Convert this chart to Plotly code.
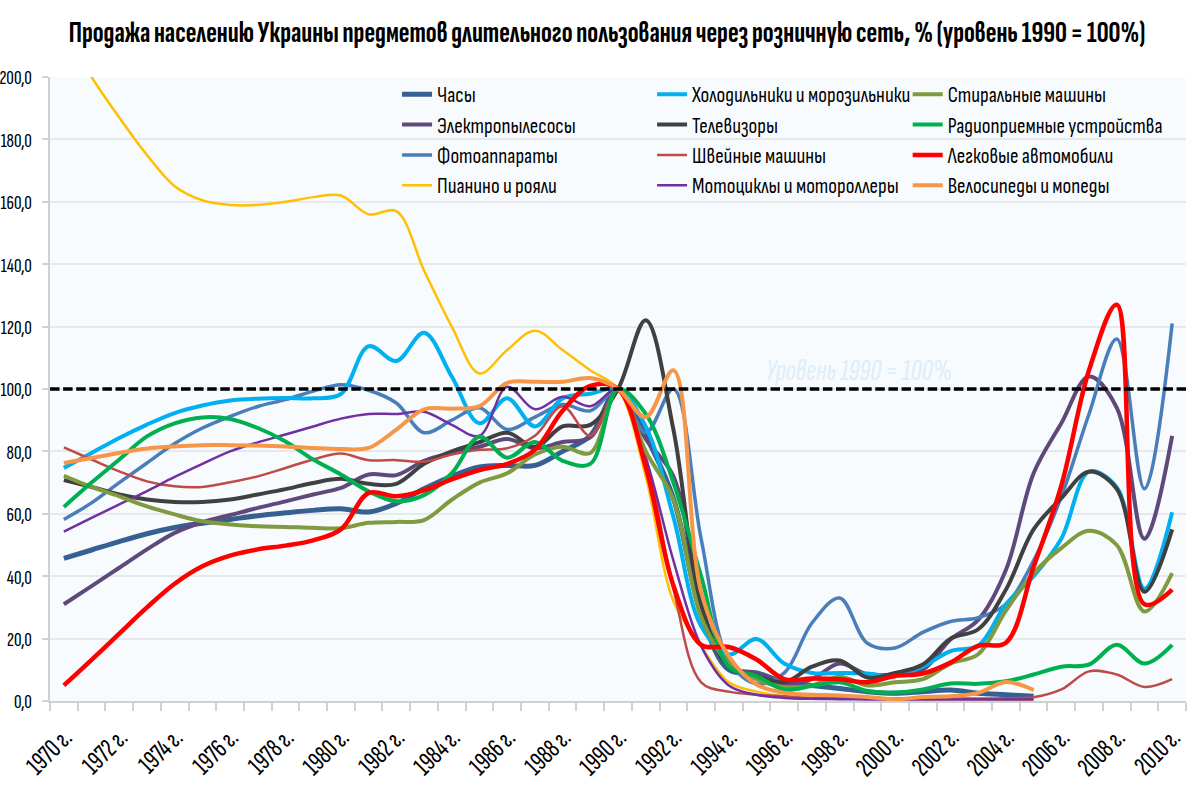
import plotly.graph_objects as go

years = list(range(1970, 2011))

chasy = [45.7,48.4,51.1,53.6,55.6,57,58.2,59.4,60.3,61.1,61.6,60.6,63.3,68,72,75,75.5,75.5,80,85,100,85,65,28,10,9,6,5,4,3,2.5,3,3.5,2.5,2,1.5]
elektro = [31,36.8,42.7,48.6,53.9,57.3,59.6,61.9,64,66.2,68.3,72.6,72.4,77,79.5,81.5,84,81,83,84.5,100,84,72,31,11,9,5.5,7,12,8.5,8.5,10,19.7,26,42,73,89,104,94,52,85]
foto = [58.2,63.5,70,76.3,82.5,87.5,91.2,94.4,96.6,99.3,101.4,99.6,95.5,86,90,94,87,91,95,93,100,86,100,52,13,5.5,9,25,33,18.5,17,22,25.5,26.7,31,45,65.5,92,116,68,121]
pianino = [215,200,187,175,165,160.5,159,159,160,161.5,162,156,157,138,120,105,112.5,118.7,112.5,106,100,72,32,17.6,6,3,1.5,1,1,0.8,0.7,0.6,0.6,0.6,0.5,0.5]
holod = [74.7,79.5,84.3,88.6,92.3,94.7,96.3,96.9,97.1,97,98.4,113.7,109,118,104,89,97,88,97,98.5,100,88,59,24,14.9,19.9,12,9,9,8.8,8,11,16,17.7,31,40,52,73.5,68.5,36,60.5]
tv = [70.8,68.6,66.2,64.6,63.8,63.8,64.6,66.2,67.9,69.9,71.2,69.6,69.6,76,80,83,86,81.5,88,88.5,100,122,87,31,11,8,6,11,13,7.5,9,11.7,20,23,35.7,55,65,73.5,68,35,55]
shvein = [81.3,77.4,73.6,70.4,68.8,68.6,70.1,72,74.7,77.4,79.3,77.2,77.2,76.7,79,80.5,81,85,94.5,85,100,78,36,6,3,2,1.5,1,1,0.9,0.8,0.8,0.8,0.8,0.9,1.2,3.7,9.5,8.5,4.5,7]
moto = [54.3,58.7,63,67.3,71.8,76,80,82.9,85.4,88,90.5,92,92,92.7,88.5,85,100.7,93.5,97.5,94.5,100,78,45,17.6,5,2,1,0.7,0.6,0.5,0.5,0.5,0.5,0.5,0.5,0.5]
stiral = [72.2,68.6,65.6,62.4,59.8,57.6,56.6,56,55.8,55.5,55.4,57.1,57.4,58,64.5,70,73,79,81.5,79.5,100,80,64.6,27,12,7,4.5,5,7.8,5,6,7,12,15,29,41,49,54.6,50,28.7,41]
radio = [62.2,70,77.4,84.8,89,90.9,90.4,87.5,83.2,77.4,72.6,67.2,64,66,73,84.7,78,83,77,76,100,92,70,40,11,8,3.7,4.8,6,3.2,2.7,3.7,5.6,5.5,6.3,8.5,11,11.7,18,12,18]
avto = [5,13.2,21.6,30,37.6,43.2,46.6,48.6,49.8,51.5,55,66.7,65.6,67.5,71,74,76,80.5,93,101,100,75,37,18,17.3,13.3,7,7.2,7,6,8,8.8,12.3,17.7,18.7,43,69,106,127,31,35.7]
velo = [76.3,77.9,79.5,80.9,81.6,82,82,81.9,81.6,81.1,80.8,81.1,87,93.5,93.7,94.5,102,102.3,102.3,103.5,100,91,106,35,14.3,5.3,2.6,2,1.8,1.3,0.5,1.3,1.5,2.6,6.1,3.5]

series = [
    ("Часы", chasy, "#376092", 5.0, 1),
    ("Электропылесосы", elektro, "#5F497A", 4.0, 1),
    ("Фотоаппараты", foto, "#4A7EBB", 3.5, 1),
    ("Пианино и рояли", pianino, "#FFC000", 2.5, 1),
    ("Холодильники и морозильники", holod, "#00B0F0", 4.0, 2),
    ("Телевизоры", tv, "#404040", 4.0, 2),
    ("Швейные машины", shvein, "#BE4B48", 2.5, 2),
    ("Мотоциклы и мотороллеры", moto, "#7030A0", 2.5, 2),
    ("Стиральные машины", stiral, "#7F9A3F", 4.0, 3),
    ("Радиоприемные устройства", radio, "#00B050", 4.0, 3),
    ("Легковые автомобили", avto, "#FF0000", 4.5, 3),
    ("Велосипеды и мопеды", velo, "#F79646", 4.0, 3),
]

XC = "Sofia Sans Extra Condensed, Roboto Condensed, Liberation Sans Narrow, Open Sans Condensed, sans-serif"
FONT = "Sofia Sans Condensed, Roboto Condensed, Liberation Sans Narrow, Open Sans Condensed, sans-serif"

fig = go.Figure()
for name, vals, col, w, leg in series:
    fig.add_trace(go.Scatter(
        x=years[:len(vals)], y=vals, name=name, mode="lines",
        line=dict(color=col, width=w, shape="spline", smoothing=1.0),
        legend="legend" if leg == 1 else f"legend{leg}",
        legendgroup=name, showlegend=True,
    ))

fig.add_shape(type="line", xref="x", yref="y", x0=1969.5, x1=2010.5, y0=100, y1=100,
              line=dict(color="black", width=3.5, dash="9.5px,3.6px"))

fig.add_annotation(x=1998.7, y=106, xref="x", yref="y", text="<i>Уровень 1990 = 100%</i>",
                   showarrow=False, font=dict(family=XC, size=31, color="#DDEEF9"))

leg_common = dict(orientation="v", xanchor="left", yanchor="top", y=1.0046,
                  bgcolor="rgba(0,0,0,0)", borderwidth=0, tracegroupgap=0,
                  itemwidth=30, itemclick=False, itemdoubleclick=False,
                  font=dict(family=FONT, size=21, color="black"))

fig.update_layout(
    width=1200, height=791,
    margin=dict(l=50, r=14, t=77, b=89.5, autoexpand=False),
    paper_bgcolor="white", plot_bgcolor="#F7FBFE",
    font=dict(family=FONT, color="black"),
    title=dict(text="<b>Продажа населению Украины предметов длительного пользования через розничную сеть, % (уровень 1990 = 100%)</b>",
               x=0.5058, xanchor="center", y=0.9595, yanchor="middle",
               font=dict(family=XC, size=29.8, color="black")),
    legend=dict(x=0.3055, **leg_common),
    legend2=dict(x=0.530, **leg_common),
    legend3=dict(x=0.755, **leg_common),
    xaxis=dict(range=[1969.5, 2010.5], tickmode="linear", tick0=1970, dtick=2, ticksuffix=" г.",
               tickangle=-45, tickfont=dict(family=XC, size=27, color="black"),
               ticklabelstandoff=8, ticks="", showgrid=False, zeroline=False,
               showline=True, linecolor="#D0D0D0", linewidth=2,
               minor=dict(tickmode="linear", tick0=1969.5, dtick=1, ticks="outside", ticklen=8,
                          tickcolor="#D0D0D0", tickwidth=1.5, showgrid=False)),
    yaxis=dict(range=[0, 200], tickmode="linear", tick0=0, dtick=20, tickformat=".1f",
               ticklabelstandoff=6, tickfont=dict(family=XC, size=21, color="black"),
               showgrid=True, gridcolor="#E6E8EC", gridwidth=2, zeroline=False,
               showline=True, linecolor="#D0D0D0", linewidth=2,
               ticks="outside", ticklen=6, tickcolor="#D0D0D0", tickwidth=1.5),
    separators=", ",
    showlegend=True,
)

fig.write_html("out.html", config={"displayModeBar": False},
               post_script="document.body.style.margin='0';")
